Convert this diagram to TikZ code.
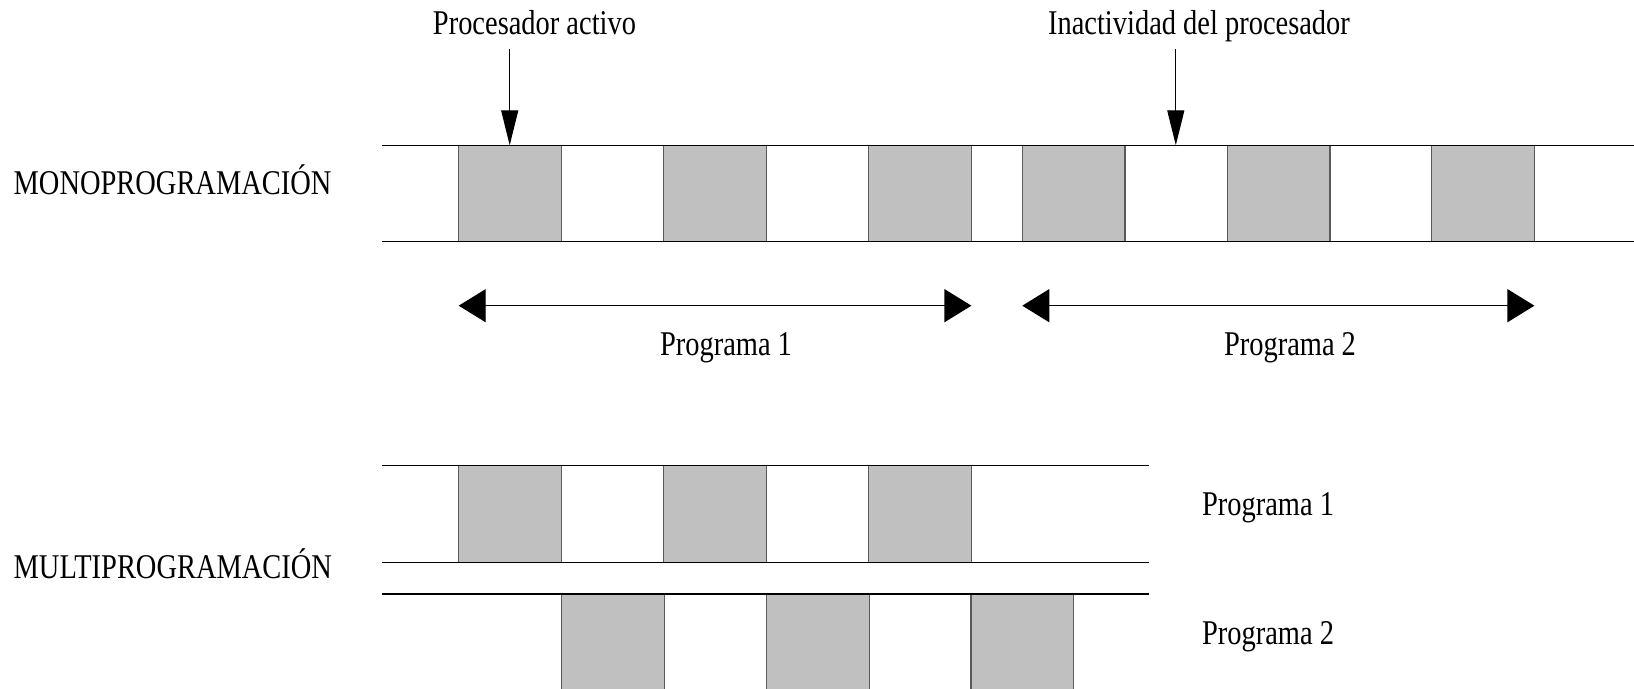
\documentclass[tikz,border=0pt]{standalone}
\usepackage{fontspec}
\setmainfont{Liberation Serif}[FakeStretch=0.82]
\usetikzlibrary{arrows.meta}
\definecolor{boxgray}{HTML}{C0C0C0}
\definecolor{edgegray}{HTML}{5A5A5A}
\tikzset{
  lbl/.style={inner sep=0pt, font=\fontsize{17.35pt}{20pt}\selectfont},
  slot/.style={fill=boxgray, draw=edgegray, line width=0.6pt},
  track/.style={draw=black, line width=0.6pt},
  pointer/.style={line width=0.6pt, -{Triangle[length=17.5pt,width=8.5pt]}},
  span/.style={line width=0.6pt, {Triangle[length=13.5pt,width=16.5pt]}-{Triangle[length=13.5pt,width=16.5pt]}},
}
\begin{document}
\begin{tikzpicture}[x=0.5pt,y=-0.5pt]
\useasboundingbox[fill=white] (0,0) rectangle (1634,689);

% ---------- MONOPROGRAMACION ----------
\foreach \x in {458.7,663.7,868.7,1022.3,1227.3,1431.7}
  \filldraw[slot] (\x,145.3) rectangle ++(102.7,96.4);
\draw[track] (382,145.3) -- (1634,145.3);
\draw[track] (382,241.7) -- (1634,241.7);

\node[lbl, anchor=base west] (mono) at (13.3,195) {MONOPROGRAMACIÓN};

\node[lbl, anchor=base] (pa) at (534.5,35) {Procesador activo};
\node[lbl, anchor=base] (ip) at (1199,35) {Inactividad del procesador};
\coordinate (pa-s) at (509.7,49.3);
\coordinate (pa-e) at (509.7,145.3);
\coordinate (ip-s) at (1175.8,49.3);
\coordinate (ip-e) at (1175.8,145.3);
\draw[pointer] (pa-s) -- (pa-e);
\draw[pointer] (ip-s) -- (ip-e);

\coordinate (s1l) at (458.7,305.7);
\coordinate (s1r) at (971.4,305.7);
\coordinate (s2l) at (1022.3,305.7);
\coordinate (s2r) at (1534.4,305.7);
\draw[span] (s1l) -- (s1r);
\draw[span] (s2l) -- (s2r);
\node[lbl, anchor=base] (mp1) at (726,356) {Programa 1};
\node[lbl, anchor=base] (mp2) at (1290,356) {Programa 2};

% ---------- MULTIPROGRAMACION ----------
\foreach \x in {458.7,663.7,868.7}
  \filldraw[slot] (\x,465.7) rectangle ++(102.7,96.6);
\foreach \x in {561.4,766.4,971.0}
  \filldraw[slot] (\x,594) rectangle ++(102.7,110);
\draw[track] (382,465.7) -- (1149.3,465.7);
\draw[track] (382,562.3) -- (1149.3,562.3);
\draw[track] (382,594) -- (1149.3,594);

\node[lbl, anchor=base west] (multi) at (13.3,578.3) {MULTIPROGRAMACIÓN};
\node[lbl, anchor=base west] (q1) at (1201.7,516) {Programa 1};
\node[lbl, anchor=base west] (q2) at (1201.7,644) {Programa 2};
\end{tikzpicture}
\end{document}
